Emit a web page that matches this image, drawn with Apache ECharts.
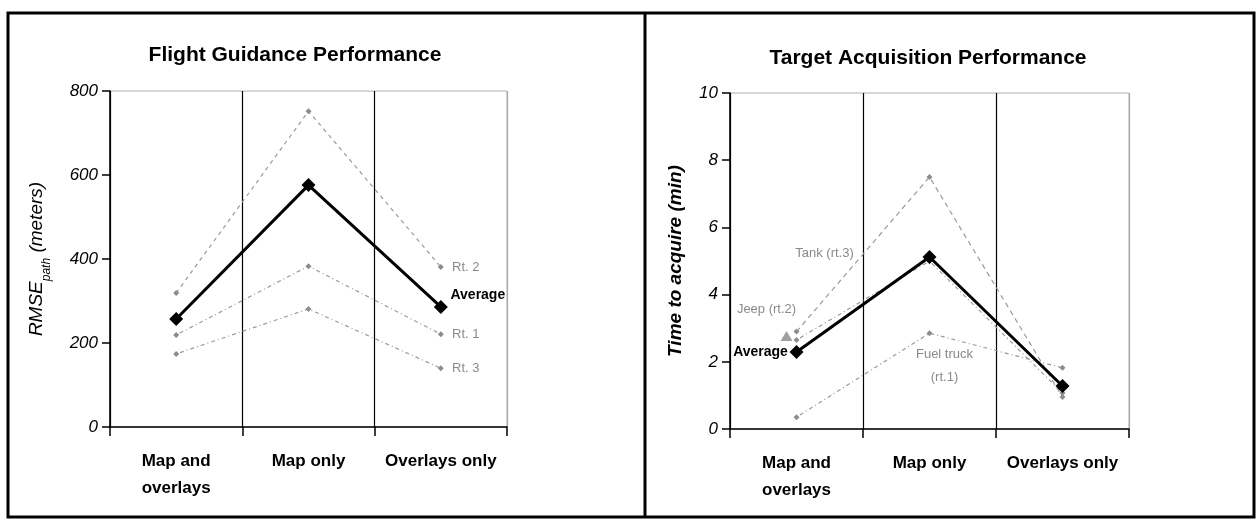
<!DOCTYPE html>
<html><head><meta charset="utf-8">
<script src="https://cdn.jsdelivr.net/npm/echarts@6/dist/echarts.min.js"></script>
<style>html,body{margin:0;padding:0;background:#fff}#c{width:1256px;height:521px}</style>
</head><body><div id="c"></div>
<script>
const categories = ['Map and\noverlays', 'Map only', 'Overlays only'];
// Flight Guidance Performance (RMSE path, meters)
const fgAverage = [257, 576, 286];
const fgRt2 = [319, 752, 381];
const fgRt1 = [219, 383, 221];
const fgRt3 = [174, 281, 140];
const fgTicks = [0, 200, 400, 600, 800];
// Target Acquisition Performance (minutes)
const taAverage = [2.29, 5.12, 1.28];
const taTank = [2.9, 7.5, 0.95];
const taJeep = [2.65, 5.0, 1.07];
const taFuel = [0.35, 2.85, 1.82];
const taTicks = [0, 2, 4, 6, 8, 10];

const FONT = 'Liberation Sans, Arial, sans-serif';
const GRAY = '#9a9a9a';
const chart = echarts.init(document.getElementById('c'));

function xAxis(gi) {
  return {
    type: 'category', gridIndex: gi, data: categories, boundaryGap: true,
    axisLine: { show: true, lineStyle: { color: '#000', width: 1.5 } },
    axisTick: { show: true, interval: 0, length: 9, lineStyle: { color: '#000', width: 1.5 } },
    splitLine: { show: true, interval: 0, lineStyle: { color: ['#000', '#000', '#000', '#aaa'], width: 1.2 } },
    axisLabel: { interval: 0, hideOverlap: false, color: '#000', fontFamily: FONT, fontWeight: 'bold', fontSize: 17, margin: 21, lineHeight: 27 }
  };
}
function yAxis(gi, ticks, name, nameGap) {
  return {
    type: 'value', gridIndex: gi, min: ticks[0], max: ticks[ticks.length - 1],
    interval: ticks[1] - ticks[0],
    name: name, nameLocation: 'middle', nameGap: nameGap,
    axisLine: { show: true, lineStyle: { color: '#000', width: 1.5 } },
    axisTick: { show: true, length: 8, lineStyle: { color: '#000', width: 1.5 } },
    splitLine: { show: false },
    axisLabel: { color: '#000', fontFamily: FONT, fontStyle: 'italic', fontSize: 17, margin: 12 }
  };
}
function routeSeries(name, data, xi, yi, labelIdx, labelOpt, dash) {
  return {
    type: 'line', name: name, xAxisIndex: xi, yAxisIndex: yi, data: data.map((v, i) => {
      if (i === labelIdx) {
        return { value: v, label: Object.assign({ show: true, position: 'inside', color: '#8a8a8a', fontFamily: FONT, fontSize: 13, formatter: name }, labelOpt) };
      }
      return v;
    }),
    symbol: 'diamond', symbolSize: 6,
    itemStyle: { color: '#8c8c8c' },
    lineStyle: { color: GRAY, width: 1.2, type: dash },
    z: 2, animation: false
  };
}
function avgSeries(data, xi, yi, labelIdx, offset) {
  return {
    type: 'line', name: 'Average', xAxisIndex: xi, yAxisIndex: yi,
    data: data.map((v, i) => i === labelIdx ? { value: v, label: { show: true, position: 'inside', offset: offset, formatter: 'Average', color: '#000', fontFamily: FONT, fontWeight: 'bold', fontSize: 14 } } : v),
    symbol: 'diamond', symbolSize: 14,
    itemStyle: { color: '#000' },
    lineStyle: { color: '#000', width: 3 },
    z: 5, animation: false
  };
}

const opt = {
  animation: false,
  title: [
    { text: 'Flight Guidance Performance', left: 290, top: 40, textAlign: 'center', textStyle: { fontFamily: FONT, fontWeight: 'bold', fontSize: 21, color: '#000' } },
    { text: 'Target Acquisition Performance', left: 923, top: 43, textAlign: 'center', textStyle: { fontFamily: FONT, fontWeight: 'bold', fontSize: 21, color: '#000' } }
  ],
  grid: [
    { left: 110, top: 91, width: 397, height: 336, show: true, borderColor: '#b0b0b0', borderWidth: 1 },
    { left: 730, top: 93, width: 399, height: 336, show: true, borderColor: '#b0b0b0', borderWidth: 1 }
  ],
  xAxis: [xAxis(0), xAxis(1)],
  yAxis: [
    Object.assign(yAxis(0, fgTicks, '{m|RMSE}{s|path}{m| (meters)}', 64), {
      nameTextStyle: { rich: {
        m: { fontFamily: FONT, fontStyle: 'italic', fontSize: 19, color: '#000' },
        s: { fontFamily: FONT, fontStyle: 'italic', fontSize: 12, color: '#000', verticalAlign: 'bottom', padding: [0, 0, -7, 0] }
      } }
    }),
    Object.assign(yAxis(1, taTicks, 'Time to acquire (min)', 45), {
      nameTextStyle: { fontFamily: FONT, fontStyle: 'italic', fontWeight: 'bold', fontSize: 19, color: '#000' }
    })
  ],
  series: [
    routeSeries('Rt. 2', fgRt2, 0, 0, 2, { offset: [25, 0] }, [4, 4]),
    routeSeries('Rt. 1', fgRt1, 0, 0, 2, { offset: [25, 0] }, [1, 3, 4, 3]),
    routeSeries('Rt. 3', fgRt3, 0, 0, 2, { offset: [25, 0] }, [1, 3, 4, 3]),
    avgSeries(fgAverage, 0, 0, 2, [37, -12]),
    routeSeries('Tank (rt.3)', taTank, 1, 1, 0, { offset: [28, -78] }, [5, 4]),
    Object.assign(routeSeries('Jeep (rt.2)', taJeep, 1, 1, 0, { offset: [-30, -31] }, [1, 3, 4, 3]), {
      markPoint: { symbol: 'triangle', symbolSize: [12, 10], symbolOffset: [-10, -4], itemStyle: { color: '#a0a0a0' }, label: { show: false },
        data: [{ coord: [0, taJeep[0]] }] }
    }),
    routeSeries('Fuel truck\n(rt.1)', taFuel, 1, 1, 1, { offset: [15, 33], lineHeight: 23, align: 'center' }, [1, 3, 4, 3]),
    avgSeries(taAverage, 1, 1, 0, [-36, 0])
  ],
  graphic: [
    { type: 'rect', shape: { x: 8, y: 13, width: 1246, height: 504 }, style: { fill: 'none', stroke: '#000', lineWidth: 3 }, silent: true },
    { type: 'line', shape: { x1: 645, y1: 13, x2: 645, y2: 517 }, style: { stroke: '#000', lineWidth: 3 }, silent: true }
  ]
};
chart.setOption(opt);
</script></body></html>
